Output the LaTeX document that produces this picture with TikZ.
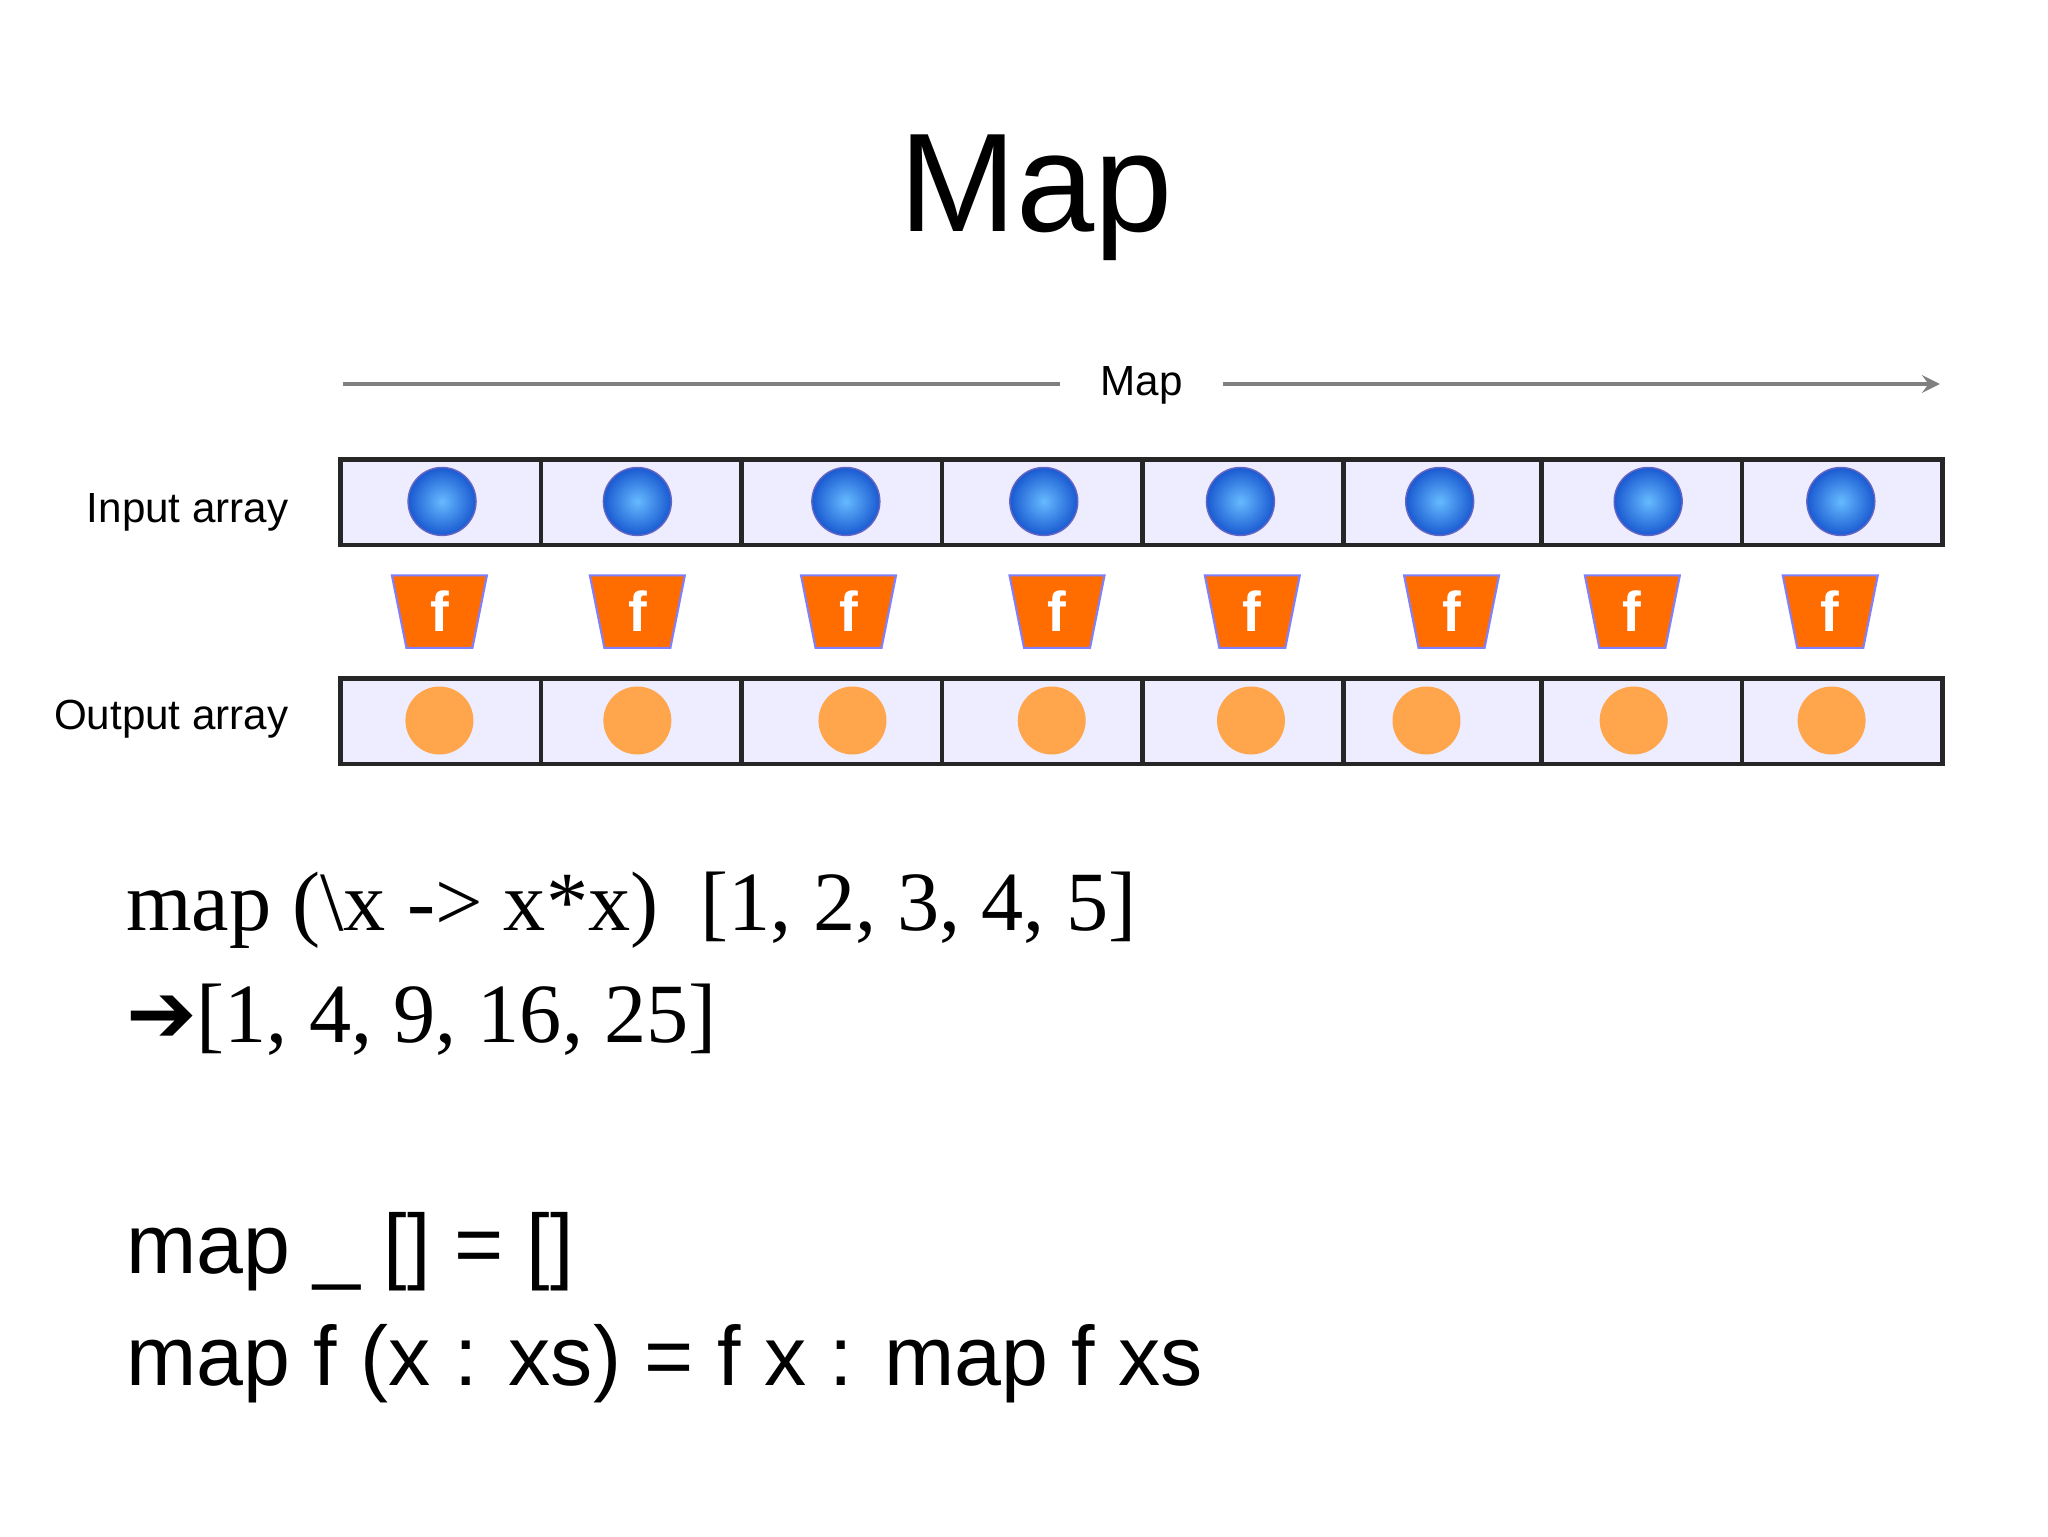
\documentclass[tikz,border=0pt]{standalone}
\usepackage{fontspec}
\setmainfont{Liberation Serif}
\setsansfont{Liberation Sans}
\newfontfamily\djv{DejaVu Sans}
\begin{document}
\begin{tikzpicture}[x=0.0132cm,y=-0.0132cm,
  cellbox/.style={draw=black!85,line width=1.3pt,fill=blue!7!white},
  inball/.style={circle,minimum size=0.68cm,inner sep=0,draw=blue!60!black!60,line width=0.4pt,inner color=blue!45!cyan!60!white,outer color=blue!65!cyan!80!black!90},
  outball/.style={circle,minimum size=0.68cm,inner sep=0,fill=orange!70!white},
  fbox/.style={fill=orange!85!red,draw=blue!50,line width=0.6pt},
  lab/.style={font=\sffamily\fontsize{12}{14}\selectfont,anchor=east}]
\useasboundingbox (0,0) rectangle (1552,1164);
\fill[white] (0,0) rectangle (1552,1164);
\node (title) at (785,150) {\sffamily\fontsize{40}{46}\selectfont Map};
\node (maplab) at (865,292) {\sffamily\fontsize{12}{14}\selectfont Map};
\coordinate (a0) at (260,291); \coordinate (a1) at (803,291);
\coordinate (a2) at (927,291); \coordinate (a3) at (1470,291);
\draw[gray,line width=1.2pt] (a0) -- (a1);
\draw[gray,line width=1.2pt,-stealth] (a2) -- (a3);
\node[lab] (inl) at (228,388) {Input array};
\node[lab] (outl) at (228,545) {Output array};
\foreach \a/\b [count=\i] in {258/410,410/562,562/714,714/866,866/1018,1018/1168,1168/1320,1320/1472}{
  \draw[cellbox] (\a,348) rectangle (\b,413);
  \draw[cellbox] (\a,514) rectangle (\b,579);
}
\foreach \c [count=\i] in {335,483,641,791,940,1091,1249,1395}{
  \node[inball] (in\i) at (\c,380) {};
}
\foreach \c [count=\i] in {333,483,646,797,948,1081,1238,1388}{
  \node[outball] (out\i) at (\c,546) {};
}
\foreach \c [count=\i] in {333,483,643,801,949,1100,1237,1387}{
  \draw[fbox] (\c-36,436) -- (\c+36,436) -- (\c+25,491) -- (\c-25,491) -- cycle;
  \node[text=white,font=\sffamily\bfseries\fontsize{16}{18}\selectfont] (f\i) at (\c,463) {f};
}
\node[anchor=base west,inner sep=0] (l1) at (95,705) {\fontsize{24}{28}\selectfont map (\textbackslash x -> x*x)\ \ [1, 2, 3, 4, 5]};
\node[anchor=base west,inner sep=0] (l2) at (95,790) {\fontsize{24}{28}\selectfont {\djv\bfseries ➔}[1, 4, 9, 16, 25]};
\node[anchor=base west,inner sep=0] (l3) at (95,965) {\sffamily\fontsize{24}{28}\selectfont map \_ [] = []};
\node[anchor=base west,inner sep=0] (l4) at (95,1050) {\sffamily\fontsize{24}{28}\selectfont map f (x : xs) = f x : map f xs};
\end{tikzpicture}
\end{document}
